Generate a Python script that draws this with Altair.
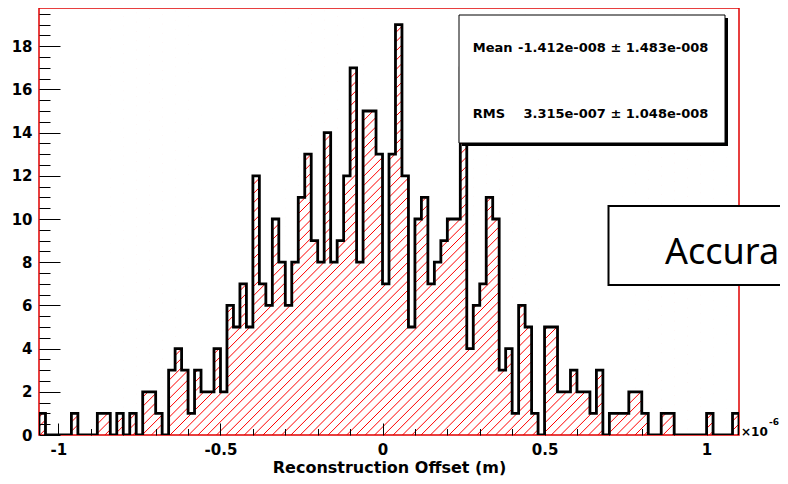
import altair as alt
import pandas as pd

# ---- data (x in units of 1e-6 m) ----
counts = [1, 0, 0, 0, 0, 1, 0, 0, 0, 1,
          1, 0, 1, 0, 1, 0, 2, 2, 1, 0,
          3, 4, 3, 1, 3, 2, 2, 4, 2, 6,
          5, 7, 5, 12, 7, 6, 10, 8, 6, 8,
          11, 13, 9, 8, 14, 8, 9, 12, 17, 8,
          15, 15, 13, 7, 13, 19, 12, 5, 10, 11,
          7, 8, 9, 10, 10, 17, 4, 6, 7, 11,
          10, 3, 4, 1, 6, 5, 1, 0, 5, 5,
          2, 2, 3, 2, 2, 1, 3, 0, 1, 1,
          1, 2, 2, 1, 0, 0, 1, 1, 0, 0,
          0, 0, 0, 1, 0, 0, 0, 1]
bin_low = -1.06
bin_width = 0.02
x_domain = [-1.06, 1.1]
y_domain = [0, 19.77]

x_label_ticks = [-1, -0.5, 0, 0.5, 1]
x_all_ticks = [-1.0, -0.9, -0.8, -0.7, -0.6, -0.5, -0.4, -0.3, -0.2, -0.1, 0,
               0.1, 0.2, 0.3, 0.4, 0.5, 0.6, 0.7, 0.8, 0.9, 1.0]
y_label_ticks = [0, 2, 4, 6, 8, 10, 12, 14, 16, 18]
y_all_ticks = [k * 0.5 for k in range(40)]

x_title = "Reconstruction Offset (m)"
stat_names = ["Mean", "RMS"]
stat_values = ["-1.412e-008 \u00b1 1.483e-008", "3.315e-007 \u00b1 1.048e-008"]
exp_texts = ["\u00d710", "-6"]
overlay_text = "Accura"

W, H = 700, 427

# ---- per-bin table and outline table ----
n = len(counts)
bins = pd.DataFrame({
    "lo": [round(bin_low + i * bin_width, 6) for i in range(n)],
    "hi": [round(bin_low + (i + 1) * bin_width + 0.002, 6) for i in range(n)],
    "n": counts,
})
bins["top"] = y_domain[1]

pts = [{"o": 0, "x": bin_low, "n": 0}]
for i, c in enumerate(counts):
    pts.append({"o": i + 1, "x": round(bin_low + i * bin_width, 6), "n": c})
x_end = round(bin_low + n * bin_width, 6)
pts.append({"o": n + 1, "x": x_end, "n": counts[-1]})
pts.append({"o": n + 2, "x": x_end, "n": 0})
df = pd.DataFrame(pts)

# ---- hatch pattern (45 degree lines), masked above the histogram ----
px_x = W / (x_domain[1] - x_domain[0])
hatch_period_px = 9.3
run = H / px_x
step = hatch_period_px / px_x
hrows = []
c = x_domain[0] - run
while c < x_domain[1]:
    hrows.append({"x": c, "y": y_domain[0], "x2": c + run, "y2": y_domain[1]})
    c += step
hatch_df = pd.DataFrame(hrows)

xs = alt.Scale(domain=x_domain, nice=False, zero=False)
ys = alt.Scale(domain=y_domain, nice=False, zero=False)

hatch = alt.Chart(hatch_df).mark_rule(color="#ff0000", strokeWidth=1, clip=True).encode(
    x=alt.X("x:Q", scale=xs, axis=None), x2="x2:Q",
    y=alt.Y("y:Q", scale=ys, axis=None), y2="y2:Q",
)

mask = alt.Chart(bins).mark_rect(color="white", opacity=1, clip=True).encode(
    x=alt.X("lo:Q", scale=xs, axis=alt.Axis(values=x_label_ticks, ticks=False, domain=False, grid=False,
                                             labelExpr="'' + datum.value", labelPadding=7,
                                             title=x_title, titleY=37, titleBaseline="alphabetic")),
    x2="hi:Q",
    y=alt.Y("n:Q", scale=ys, axis=alt.Axis(values=y_label_ticks, ticks=False, domain=False, grid=False,
                                            labelPadding=7, title=None)),
    y2="top:Q",
)

one = pd.DataFrame({"a": [0]})
frame = alt.Chart(one).mark_rect(fillOpacity=0, stroke="#e00000", strokeWidth=1.5).encode(
    x=alt.value(0), x2=alt.value(W), y=alt.value(0), y2=alt.value(H))

line = alt.Chart(df).mark_line(interpolate="step-after", color="black", strokeWidth=2.8, clip=True).encode(
    x=alt.X("x:Q", scale=xs, axis=alt.Axis(orient="top", offset=-H, values=x_all_ticks, labels=False,
                                            domain=False, grid=False, title=None, tickColor="black", tickWidth=1,
                                            zindex=1,
                                            tickSize={"condition": {"test": "abs(datum.value*2 - round(datum.value*2)) < 0.001", "value": 12}, "value": 6.5})),
    y=alt.Y("n:Q", scale=ys, axis=alt.Axis(orient="right", offset=-W, values=y_all_ticks, labels=False,
                                            domain=False, grid=False, title=None, tickColor="black", tickWidth=1,
                                            zindex=1,
                                            tickSize={"condition": {"test": "datum.value % 2 === 0", "value": 21}, "value": 11})),
    order=alt.Order("o:Q"),
)

shadow = alt.Chart(one).mark_rect(color="black").encode(
    x=alt.value(423), x2=alt.value(689), y=alt.value(10), y2=alt.value(138))
box = alt.Chart(one).mark_rect(fill="white", stroke="black", strokeWidth=1).encode(
    x=alt.value(420), x2=alt.value(686), y=alt.value(7), y2=alt.value(135))


def txt(t, x, y, align="left", size=13, weight="bold", font="DejaVu Sans"):
    return alt.Chart(one).mark_text(text=t, align=align, baseline="alphabetic", fontSize=size,
                                    fontWeight=weight, font=font, color="black").encode(
        x=alt.value(x), y=alt.value(y))


stat_layers = [
    txt(stat_names[0], 433.7, 43.7), txt(stat_values[0], 669.3, 43.7, align="right"),
    txt(stat_names[1], 433.7, 110.3), txt(stat_values[1], 669.3, 110.3, align="right"),
]

exp_layers = [txt(exp_texts[0], 702, 428, size=12), txt(exp_texts[1], 730, 417, size=9)]

acc_box = alt.Chart(one).mark_rect(fill="white", stroke="black", strokeWidth=2).encode(
    x=alt.value(569.5), x2=alt.value(800), y=alt.value(198), y2=alt.value(277))
acc_text = txt(overlay_text, 626, 256, size=36, weight="normal", font="Noto Sans")

chart = alt.layer(hatch, mask, frame, line, shadow, box, *stat_layers, *exp_layers, acc_box, acc_text).resolve_axis(
    x="independent", y="independent"
).properties(
    width=W, height=H,
    padding={"left": 31, "top": 0, "right": 41, "bottom": 41},
    autosize=alt.AutoSizeParams(type="none"),
    background="white",
).configure_axis(
    labelFont="DejaVu Sans", labelFontWeight="bold", labelFontSize=15, labelColor="black",
    titleFont="DejaVu Sans", titleFontWeight="bold", titleFontSize=16, titleColor="black",
).configure_view(strokeWidth=0)

chart.save("out.html", embed_options={"renderer": "svg", "actions": False})
